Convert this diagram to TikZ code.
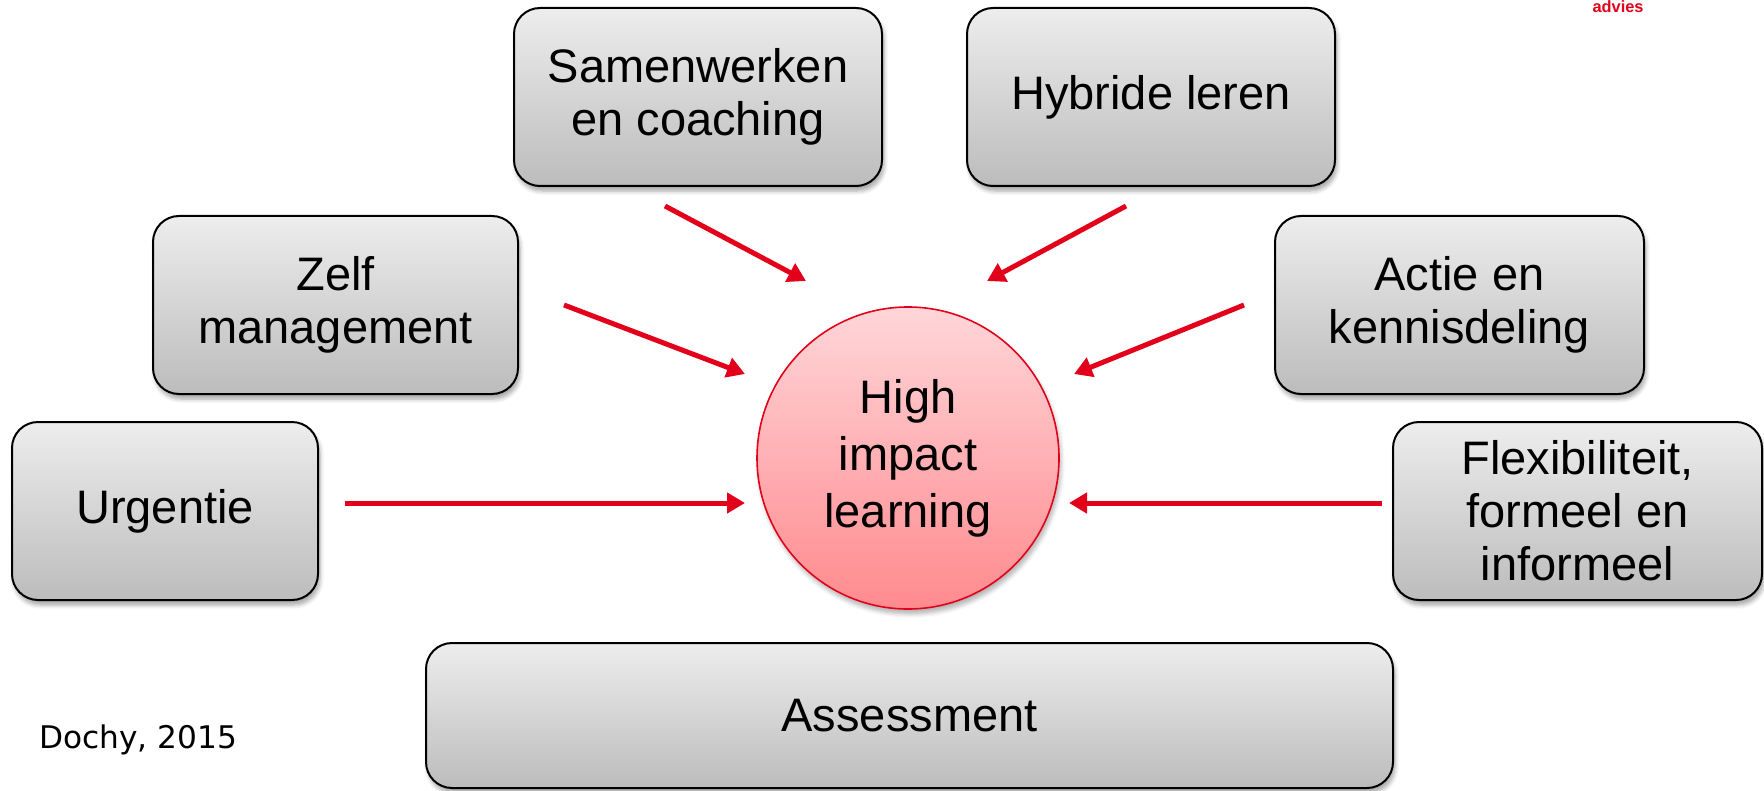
\documentclass[tikz,border=0pt]{standalone}
\usepackage{fontspec}
\setmainfont{Liberation Sans}
\newfontfamily\dochyfont{DejaVu Sans}
\usetikzlibrary{arrows.meta,shadows.blur}
\definecolor{hilred}{HTML}{E2001A}
\definecolor{boxtop}{HTML}{EDEDED}
\definecolor{boxbot}{HTML}{BCBCBC}
\definecolor{circtop}{HTML}{FFD6D9}
\definecolor{circbot}{HTML}{FF8A8E}

\begin{document}
\begin{tikzpicture}[x=0.5pt,y=-0.5pt,
  box/.style={draw=black,line width=1pt,rounded corners=13pt,top color=boxtop,bottom color=boxbot,
    blur shadow={shadow xshift=1pt,shadow yshift=-2.5pt,shadow blur steps=5,shadow opacity=35},
    align=center,inner sep=0pt,minimum height=89pt,font=\fontsize{23.5}{26.5}\selectfont},
  hub/.style={circle,draw=hilred,line width=0.8pt,top color=circtop,bottom color=circbot,
    blur shadow={shadow xshift=1pt,shadow yshift=-2.5pt,shadow blur steps=5,shadow opacity=30},
    minimum size=151pt,inner sep=0pt,align=center,font=\fontsize{23.5}{28.5}\selectfont},
  pull/.style={hilred,line width=2.5pt,-{Triangle[length=9pt,width=10pt]}}]
\useasboundingbox (0,0) rectangle (1764,791);

% centre
\node[hub] (H) at (908,458) {High\\impact\\learning};

% top row
\node[box,minimum width=184pt] (S) at (698,97) {Samenwerken\\en coaching};
\node[box,minimum width=184pt] (B) at (1151,97) {Hybride leren};
% middle row
\node[box,minimum width=182.5pt] (Z) at (335.5,305) {Zelf\\management};
\node[box,minimum width=184.5pt] (A) at (1459.5,305) {Actie en\\kennisdeling};
% lower row
\node[box,minimum width=153pt] (U) at (165,511) {Urgentie};
\node[box,minimum width=184.5pt] (F) at (1577.5,511) {Flexibiliteit,\\formeel en\\informeel};
% bottom
\node[box,minimum width=483.5pt,minimum height=72.5pt] (As) at (909.5,715.5) {Assessment};

% source and logo
\node[font=\dochyfont\fontsize{15.6}{18}\selectfont,anchor=west,inner sep=0pt] (src) at (39,740) {Dochy, 2015};
\node[font=\bfseries\fontsize{8.2}{9}\selectfont,text=hilred,anchor=north,inner sep=0pt] (logo) at (1618,0) {advies};

% arrow ends
\coordinate (s1) at (665,206);  \coordinate (s2) at (806,281);
\coordinate (b1) at (1126,206); \coordinate (b2) at (987,281);
\coordinate (z1) at (564,305);  \coordinate (z2) at (745,374);
\coordinate (a1) at (1244,305); \coordinate (a2) at (1074,374);
\coordinate (u1) at (345,503);  \coordinate (u2) at (745,503);
\coordinate (f1) at (1382,503); \coordinate (f2) at (1069,503);

\path[pull]
(s1) edge (s2)
(b1) edge (b2)
(z1) edge (z2)
(a1) edge (a2)
(u1) edge (u2)
(f1) edge (f2);

\end{tikzpicture}
\end{document}
